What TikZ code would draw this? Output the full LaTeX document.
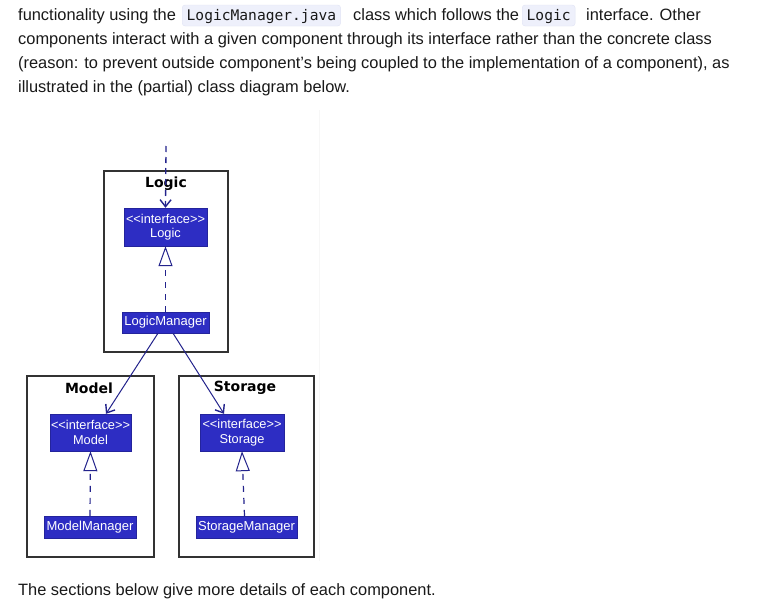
\documentclass[tikz,border=0pt]{standalone}
\usepackage{fontspec}
\setmainfont{Liberation Sans}
\newfontfamily\codefont{DejaVu Sans Mono}
\newfontfamily\umlfont{DejaVu Sans}
\newfontfamily\boxfont{Liberation Sans}
\usetikzlibrary{arrows.meta}
\definecolor{txt}{RGB}{25,25,25}
\definecolor{codebg}{RGB}{238,240,251}
\definecolor{codebd}{RGB}{225,228,245}
\definecolor{umlfill}{RGB}{45,45,195}
\definecolor{umlline}{RGB}{35,35,140}
\definecolor{pkgline}{RGB}{50,50,50}
\tikzset{
  para/.style={anchor=base west, inner sep=0pt, text=txt, font=\fontsize{16.4}{18}\selectfont},
  code/.style={anchor=base west, inner xsep=4.5pt, inner ysep=0pt, text=txt,
    font=\codefont\fontsize{14.6}{16}\selectfont, fill=codebg, draw=codebd, rounded corners=3pt,
    text height=15pt, text depth=6pt},
  pkg/.style={draw=pkgline, line width=1.6pt, fill=white},
  pkgtitle/.style={font=\umlfont\bfseries\fontsize{14}{15}\selectfont, text=black, inner sep=0pt},
  iface/.style={fill=umlfill, draw=umlfill!80!black, line width=0.4pt, text=white, align=center,
    font=\boxfont\fontsize{12.8}{14.5}\selectfont, inner sep=0pt},
  cls/.style={fill=umlfill, draw=umlfill!80!black, line width=0.4pt, text=white,
    font=\boxfont\fontsize{13}{14}\selectfont, inner xsep=2pt, inner ysep=0pt},
  dep/.style={draw=umlline, line width=1pt, -{Straight Barb[length=7pt,width=11pt,line width=1.4pt]}},
  dashdep/.style={dep, line width=1.3pt, dash pattern=on 6pt off 5pt},
  real/.style={draw=umlline, line width=1.2pt, dash pattern=on 6pt off 6pt,
    -{Triangle[open,length=20pt,width=14pt,line width=1pt,fill=white]}},
}
\begin{document}
\begin{tikzpicture}[x=1pt,y=-1pt]
\useasboundingbox (0,0) rectangle (758,605);
\fill[white] (0,0) rectangle (758,605);
% paragraph
\node[para] (l1a) at (18,20) {functionality using the};
\node[code] (c1) at (182,20) {LogicManager.java};
\node[para] (l1b) at (353,20) {class which follows the};
\node[code] (c2) at (522,20) {Logic};
\node[para] (l1c) at (586,20) {interface. Other};
\node[para] (l2) at (18,44) {components interact with a given component through its interface rather than the concrete class};
\node[para] (l3) at (18,68) {(reason: to prevent outside component’s being coupled to the implementation of a component), as};
\node[para] (l4) at (18,92) {illustrated in the (partial) class diagram below.};
\node[para] (l5) at (18,595) {The sections below give more details of each component.};
% diagram image area
\draw[black!3, line width=0.6pt] (319,110) -- (319,561);
% packages
\draw[pkg] (104,171) rectangle (228,352);
\node[pkgtitle] (tlogic) at (166,183.5) {Logic};
\draw[pkg] (27,376) rectangle (154,557);
\node[pkgtitle] (tmodel) at (89,388) {Model};
\draw[pkg] (179,376) rectangle (314,557);
\node[pkgtitle] (tstorage) at (245,388) {Storage};
% classes
\node[iface, minimum width=83pt, minimum height=38pt] (ilogic) at (165.5,227) {<<interface>>\\Logic};
\node[cls, minimum width=87pt, minimum height=21pt] (mlogic) at (165.5,322.5) {LogicManager};
\node[iface, minimum width=81pt, minimum height=37pt] (imodel) at (90.5,432.5) {<<interface>>\\Model};
\node[cls, minimum width=92pt, minimum height=22pt] (mmodel) at (90,527) {ModelManager};
\node[iface, minimum width=84pt, minimum height=37pt] (istorage) at (242,432.5) {<<interface>>\\Storage};
\node[cls, minimum width=101pt, minimum height=22pt] (mstorage) at (246.5,527) {StorageManager};
\coordinate (top) at (166,146);
% connectors
\draw[dashdep] (top) -- (ilogic.north);
\draw[real] (mlogic.north) -- (ilogic.south);
\draw[real] (mmodel.north) -- (imodel.south);
\draw[real] ([xshift=-2pt]mstorage.north) -- (istorage.south);
\draw[dep] ([xshift=-7.5pt]mlogic.south) -- ([xshift=15.5pt]imodel.north);
\draw[dep] ([xshift=7.5pt]mlogic.south) -- ([xshift=-18pt]istorage.north);
\end{tikzpicture}
\end{document}
